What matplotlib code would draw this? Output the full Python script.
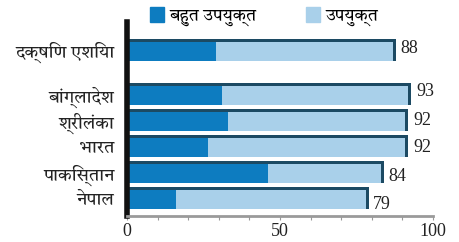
import matplotlib
matplotlib.use('Agg')
import matplotlib.pyplot as plt
from matplotlib.patches import Patch
from matplotlib.ticker import MultipleLocator

categories = ["दक्षिण एशिया", "बांग्लादेश", "श्रीलंका", "भारत", "पाकिस्तान", "नेपाल"]
very_suitable = [29, 31, 33, 26.5, 46, 16]
total = [88, 93, 92, 92, 84, 79]
total_labels = ["88", "93", "92", "92", "84", "79"]
legend_labels = ["बहुत उपयुक्त", "उपयुक्त"]
xticks = [0, 50, 100]

DEV = ['Tiro Devanagari Hindi', 'Liberation Serif']
SERIF = ['Liberation Serif']
dark = '#0d7cc0'
light = '#a9d0ea'
edge = '#1c4a63'

ypos = [5.7, 4, 3, 2, 1, 0]
h = 0.86

fig = plt.figure(figsize=(4.6, 2.42), dpi=100)
ax = fig.add_axes([0.276, 0.107, 0.665, 0.802])

suitable = [t - v for t, v in zip(total, very_suitable)]
ax.barh(ypos, very_suitable, height=h, color=dark, linewidth=0)
ax.barh(ypos, suitable, left=very_suitable, height=h, color=light, linewidth=0)
# 3D-like dark top face and right edge
ax.barh([y + h / 2 - 0.06 for y in ypos], total, height=0.12, color=edge, linewidth=0)
ax.barh(ypos, [1.0] * len(total), left=[t - 1.0 for t in total], height=h, color=edge, linewidth=0)

label_dy = [0.05, 0.1, 0.0, -0.05, -0.15, -0.25]
for y, t, lab, dy in zip(ypos, total, total_labels, label_dy):
    ax.text(t + 1.5, y + dy, lab, fontsize=13, family=SERIF, va='center', ha='left', color='#222222')

ax.set_xlim(0, 100)
ax.set_ylim(-0.69, 6.78)
ax.set_yticks(ypos)
ax.set_yticklabels(categories, family=DEV, fontsize=13, color='#222222')
ax.tick_params(axis='y', length=0, pad=9)
ax.set_xticks(xticks)
ax.set_xticklabels([str(x) for x in xticks], family=SERIF, fontsize=13, color='#222222')
ax.xaxis.set_minor_locator(MultipleLocator(10))
ax.tick_params(axis='x', which='both', length=3, width=0.8, color='#999999', direction='out', pad=2)

for s in ['top', 'right']:
    ax.spines[s].set_visible(False)
ax.spines['left'].set_linewidth(4)
ax.spines['left'].set_color('#111111')
ax.spines['bottom'].set_linewidth(2)
ax.spines['bottom'].set_color('#9a9a9a')

handles = [Patch(color=dark), Patch(color=light)]
leg = fig.legend(handles, legend_labels, loc='upper left', bbox_to_anchor=(0.292, 1.035), ncol=2,
                 frameon=False, prop={'family': DEV, 'size': 12.5}, handlelength=0.8, handleheight=0.95,
                 handletextpad=0.3, columnspacing=2.9)

fig.savefig('out.png')
